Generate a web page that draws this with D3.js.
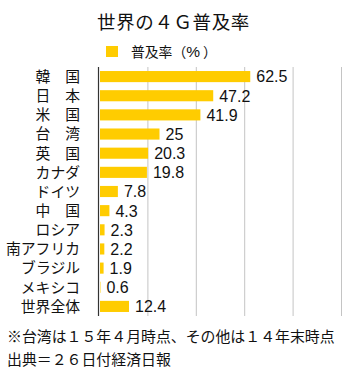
<!DOCTYPE html>
<html><head><meta charset="utf-8">
<script src="https://cdn.jsdelivr.net/npm/d3@7"></script>
<style>
html,body{margin:0;padding:0;background:#fff;}
svg{display:block;}
text{font-family:"Noto Sans CJK JP","Noto Sans",sans-serif;fill:#111;}
.num{font-family:"Liberation Sans","DejaVu Sans",sans-serif;}
</style></head>
<body>
<script>
const categories = ["韓　国","日　本","米　国","台　湾","英　国","カナダ","ドイツ","中　国","ロシア","南アフリカ","ブラジル","メキシコ","世界全体"];
const values = [62.5,47.2,41.9,25,20.3,19.8,7.8,4.3,2.3,2.2,1.9,0.6,12.4];
const valueLabels = ["62.5","47.2","41.9","25","20.3","19.8","7.8","4.3","2.3","2.2","1.9","0.6","12.4"];
const xTicks = [0,20,40,60,80,100];
const title = "世界の４Ｇ普及率";
const legendParts = ["普及率（","%","）"];
const notes = ["※台湾は１５年４月時点、その他は１４年末時点","出典＝２６日付経済日報"];

const W=357,H=370;
const svg=d3.select("body").append("svg").attr("width",W).attr("height",H);
const x=d3.scaleLinear().domain([0,100]).range([99,341]);
const y=d3.scaleBand().domain(categories).range([67,316]).paddingInner(0.42).paddingOuter(0.21);
const barColor="#FFCC00";

// title
svg.append("text").attr("x",173.5).attr("y",29).attr("text-anchor","middle")
  .style("font-size","18.5px").style("letter-spacing","0.6px").text(title);

// legend
svg.append("rect").attr("x",106).attr("y",46).attr("width",12).attr("height",11).attr("fill",barColor);
const lg=svg.append("text").attr("x",131).attr("y",57).style("font-size","13.8px");
lg.append("tspan").text(legendParts[0]);
lg.append("tspan").text(legendParts[1]).attr("class","num").style("font-size","15.5px").attr("dx",0);
lg.append("tspan").text(legendParts[2]).attr("dx",3);

// gridlines
svg.append("g").selectAll("line").data(xTicks.slice(1)).join("line")
  .attr("x1",d=>x(d)+0.5).attr("x2",d=>x(d)+0.5).attr("y1",67).attr("y2",316)
  .attr("stroke","#c4c4c4").attr("stroke-width",1);

// bars
svg.append("g").selectAll("rect").data(values).join("rect")
  .attr("x",x(0)+1).attr("y",(d,i)=>y(categories[i]))
  .attr("width",d=>Math.max(0,x(d)-x(0)-1)).attr("height",y.bandwidth())
  .attr("fill",barColor);

// axis line
svg.append("line").attr("x1",x(0)-0.5).attr("x2",x(0)-0.5).attr("y1",67).attr("y2",316)
  .attr("stroke","#333").attr("stroke-width",1.2);

// category labels
svg.append("g").selectAll("text").data(categories).join("text")
  .attr("x",80).attr("y",d=>y(d)+y.bandwidth()/2).attr("dy","0.36em")
  .attr("text-anchor","end").style("font-size","14.8px").text(d=>d);

// value labels
svg.append("g").selectAll("text").data(values).join("text").attr("class","num")
  .attr("x",d=>x(d)+6).attr("y",(d,i)=>y(categories[i])+y.bandwidth()/2).attr("dy","0.37em")
  .style("font-size","16px").text((d,i)=>valueLabels[i]);

// notes
svg.append("g").selectAll("text").data(notes).join("text")
  .attr("x",7).attr("y",(d,i)=>342+i*22.5).style("font-size","14.9px").text(d=>d);
</script>
</body></html>
